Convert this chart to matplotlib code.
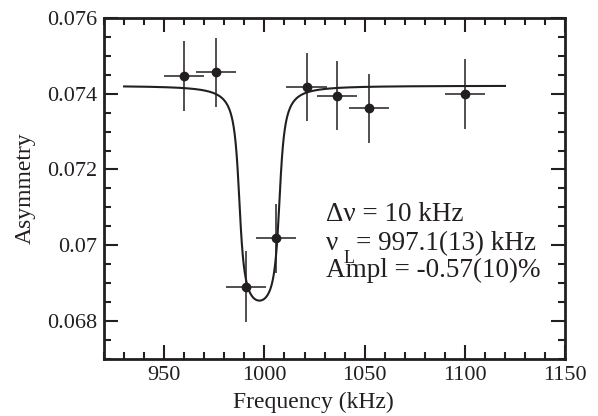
import numpy as np
import matplotlib
matplotlib.use('Agg')
import matplotlib.pyplot as plt
from matplotlib.ticker import MultipleLocator

freq = [960, 976, 991, 1006, 1021, 1036, 1052, 1100]
asym = [0.07447, 0.07456, 0.06891, 0.07018, 0.07417, 0.07394, 0.07361, 0.07399]
asym_err = [0.00092, 0.00091, 0.00093, 0.00092, 0.00090, 0.00091, 0.00092, 0.00093]
freq_err = [10, 10, 10, 10, 10, 10, 10, 10]

# fit parameters: Lorentzian convolved with a box of half-width dnu
base = 0.07421
depth = 0.00567
nu_L = 997.5
dnu = 10.0
gamma = 2.0

black = '#231f20'
plt.rcParams['font.family'] = ['Liberation Serif', 'DejaVu Serif']
plt.rcParams['font.size'] = 16


def line_shape(f):
    s = np.arctan((f - nu_L + dnu) / gamma) - np.arctan((f - nu_L - dnu) / gamma)
    s0 = 2 * np.arctan(dnu / gamma)
    return base - depth * s / s0


fig = plt.figure(figsize=(5.98, 4.16), dpi=100)
ax = fig.add_axes([0.174, 0.137, 0.771, 0.820])

fx = np.linspace(930, 1120, 800)
ax.plot(fx, line_shape(fx), color=black, lw=1.5)
ax.errorbar(freq, asym, yerr=asym_err, xerr=freq_err, fmt='o', color=black,
            ms=6, elinewidth=1.1, capsize=0)

ax.set_xlim(920, 1150)
ax.set_ylim(0.067, 0.076)
ax.xaxis.set_major_locator(MultipleLocator(50))
ax.xaxis.set_minor_locator(MultipleLocator(10))
ax.yaxis.set_minor_locator(MultipleLocator(0.0005))
ax.set_yticks([0.068, 0.070, 0.072, 0.074, 0.076])
ax.set_yticklabels(['0.068', '0.07', '0.072', '0.074', '0.076'])
ax.tick_params(which='both', direction='in', top=True, right=True,
               color=black, labelcolor=black, width=1.5)
ax.tick_params(which='major', length=10, pad=5)
ax.tick_params(which='minor', length=5)
for sp in ax.spines.values():
    sp.set_linewidth(2)
    sp.set_color(black)

ax.set_xlabel('Frequency (kHz)', color=black, fontsize=17)
ax.xaxis.set_label_coords(0.455, -0.097)
ax.set_ylabel('Asymmetry', color=black, fontsize=17, labelpad=8)

fs = 19.5
ax.text(0.4816, 0.4047, 'Δν = 10 kHz', transform=ax.transAxes, va='baseline',
        fontsize=fs, color=black)
ax.text(0.4816, 0.3196, 'ν', transform=ax.transAxes, va='baseline',
        fontsize=fs, color=black)
ax.text(0.52, 0.282, 'L', transform=ax.transAxes, va='baseline',
        fontsize=13, color=black)
ax.text(0.547, 0.3196, '= 997.1(13) kHz', transform=ax.transAxes, va='baseline',
        fontsize=fs, color=black)
ax.text(0.4816, 0.2405, 'Ampl = -0.57(10)%', transform=ax.transAxes, va='baseline',
        fontsize=fs, color=black)

fig.savefig('out.png', dpi=100)
